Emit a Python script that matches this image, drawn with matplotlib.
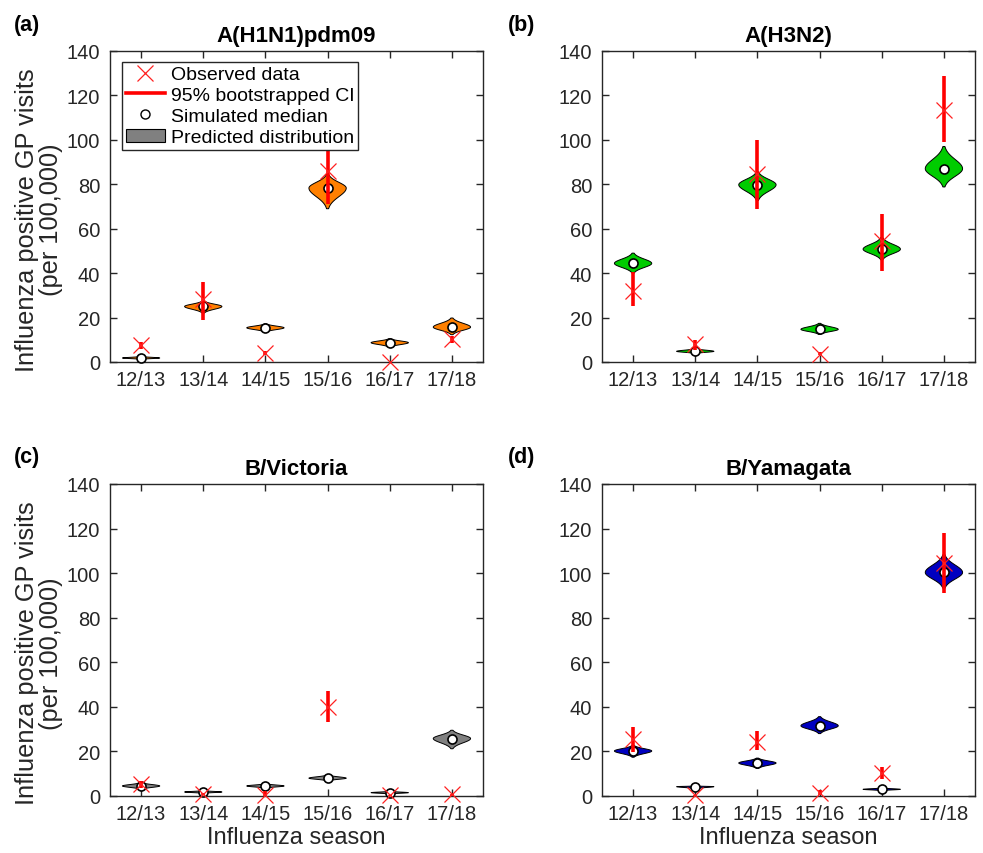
import numpy as np
import matplotlib
matplotlib.use("Agg")
import matplotlib.pyplot as plt
from matplotlib.lines import Line2D
from matplotlib.patches import Patch

plt.rcParams['font.family'] = ['Liberation Sans', 'DejaVu Sans']

seasons = ['12/13', '13/14', '14/15', '15/16', '16/17', '17/18']

# A(H1N1)pdm09
h1_obs = [7.5, 28.5, 4.0, 86.0, 0.0, 10.2]
h1_ci_lo = [6.0, 18.7, 3.0, 71.0, 0.0, 8.7]
h1_ci_hi = [9.0, 36.0, 5.0, 100.0, 0.0, 11.7]
h1_med = [1.8, 25.0, 15.4, 78.3, 8.7, 15.7]
h1_vlo = [1.2, 22.0, 13.5, 69.0, 6.7, 12.3]
h1_vhi = [2.5, 27.5, 17.2, 84.5, 10.5, 19.8]

# A(H3N2)
h3_obs = [31.8, 7.9, 84.8, 3.8, 54.5, 113.3]
h3_ci_lo = [25.0, 5.3, 69.0, 3.0, 40.9, 99.2]
h3_ci_hi = [40.5, 9.8, 100.0, 4.6, 66.7, 128.8]
h3_med = [44.4, 4.8, 79.8, 14.7, 50.8, 87.0]
h3_vlo = [40.0, 3.8, 72.7, 12.4, 46.0, 78.8]
h3_vhi = [49.0, 6.0, 85.6, 17.4, 56.0, 97.0]

# B/Victoria
bv_obs = [5.3, 0.8, 0.3, 40.0, 0.3, 0.8]
bv_ci_lo = [3.8, 0.3, 0.0, 33.3, 0.0, 0.0]
bv_ci_hi = [6.8, 1.3, 2.3, 47.0, 0.6, 1.0]
bv_med = [4.5, 1.8, 4.5, 8.0, 1.5, 25.8]
bv_vlo = [3.0, 1.2, 3.5, 6.8, 0.9, 21.2]
bv_vhi = [6.0, 2.4, 5.5, 9.4, 2.1, 29.5]

# B/Yamagata
by_obs = [25.8, 0.3, 24.2, 1.5, 10.3, 104.5]
by_ci_lo = [19.7, 0.0, 20.5, 0.5, 7.6, 91.2]
by_ci_hi = [31.0, 0.6, 29.2, 2.5, 12.9, 118.2]
by_med = [20.2, 4.2, 14.8, 31.5, 3.0, 100.3]
by_vlo = [17.4, 3.3, 12.4, 28.0, 2.4, 93.2]
by_vhi = [22.7, 4.5, 17.0, 35.6, 3.6, 108.3]

titles = ['A(H1N1)pdm09', 'A(H3N2)', 'B/Victoria', 'B/Yamagata']
letters = ['(a)', '(b)', '(c)', '(d)']
colors = ['#FF8000', '#00CC00', '#808080', '#0000C0']

panels = [
    (h1_obs, h1_ci_lo, h1_ci_hi, h1_med, h1_vlo, h1_vhi),
    (h3_obs, h3_ci_lo, h3_ci_hi, h3_med, h3_vlo, h3_vhi),
    (bv_obs, bv_ci_lo, bv_ci_hi, bv_med, bv_vlo, bv_vhi),
    (by_obs, by_ci_lo, by_ci_hi, by_med, by_vlo, by_vhi),
]

W, H = 983, 854
fig = plt.figure(figsize=(W / 100, H / 100), dpi=100)

ax_px = [(110, 52, 483, 363), (602, 52, 975, 363),
         (110, 485, 483, 797), (602, 485, 975, 797)]
letter_px = [(14, 25), (508, 25), (14, 458), (508, 458)]

dark = '#262626'


def violin(ax, x, lo, med, hi, color, halfw=0.3):
    y = np.linspace(lo, hi, 120)
    s_up = max(hi - med, 1e-3) / 2.4
    s_dn = max(med - lo, 1e-3) / 2.4
    s = np.where(y >= med, s_up, s_dn)
    w = halfw * np.exp(-0.5 * ((y - med) / s) ** 2)
    xs = np.concatenate([x - w, (x + w)[::-1]])
    ys = np.concatenate([y, y[::-1]])
    ax.fill(xs, ys, facecolor=color, edgecolor='black', linewidth=0.7, zorder=2)


for i, (data, (l, t, r, b)) in enumerate(zip(panels, ax_px)):
    obs, cil, cih, med, vlo, vhi = data
    ax = fig.add_axes([l / W, 1 - b / H, (r - l) / W, (b - t) / H])
    xs = np.arange(1, len(seasons) + 1)
    for k, x in enumerate(xs):
        violin(ax, x, vlo[k], med[k], vhi[k], colors[i])
    ax.plot(xs, med, 'o', ms=6.5, mfc='white', mec='black', mew=1.2,
            ls='none', zorder=3, clip_on=False)
    ax.vlines(xs, cil, cih, colors='red', linewidth=2.6, zorder=4)
    ax.plot(xs, obs, 'x', ms=12, color='#FF2020', mew=0.9, ls='none',
            zorder=5, clip_on=False)

    ax.set_xlim(0.5, 6.5)
    ax.set_ylim(0, 140)
    ax.set_xticks(xs)
    ax.set_xticklabels(seasons)
    ax.set_yticks(np.arange(0, 141, 20))
    ax.tick_params(direction='in', length=5, width=1.0, colors=dark,
                   labelsize=14.5, top=True, right=True, pad=6)
    ax.tick_params(axis='y', pad=7)
    for sp in ax.spines.values():
        sp.set_color(dark)
        sp.set_linewidth(1.0)
    ax.set_title(titles[i], fontsize=16, fontweight='bold', pad=7)
    if i in (0, 2):
        ax.set_ylabel('Influenza positive GP visits\n(per 100,000)',
                      fontsize=18.3, color=dark, linespacing=0.98)
        ax.yaxis.set_label_coords(-0.126, 0.46)
    if i in (2, 3):
        ax.set_xlabel('Influenza season', fontsize=17, color=dark, labelpad=2)
    lx, ly = letter_px[i]
    fig.text(lx / W, 1 - ly / H, letters[i], fontsize=15.5, fontweight='bold',
             va='center', ha='left')

    if i == 0:
        handles = [
            Line2D([], [], marker='x', color='#FF2020', ls='none', ms=12, mew=0.9),
            Line2D([], [], color='red', lw=2.6),
            Line2D([], [], marker='o', ls='none', ms=6.5, mfc='white',
                   mec='black', mew=1.0),
            Patch(facecolor='#808080', edgecolor='black', linewidth=0.8),
        ]
        labels = ['Observed data', '95% bootstrapped CI', 'Simulated median',
                  'Predicted distribution']
        leg = ax.legend(handles, labels, loc='upper left', fontsize=14,
                        frameon=True, fancybox=False, edgecolor=dark,
                        framealpha=1, borderpad=0.2, labelspacing=0.17,
                        handlelength=2.0, handletextpad=0.3,
                        borderaxespad=0.0, bbox_to_anchor=(0.032, 0.965))
        leg.get_frame().set_linewidth(1.0)
        leg.set_zorder(10)

fig.savefig('out.png', dpi=100)
